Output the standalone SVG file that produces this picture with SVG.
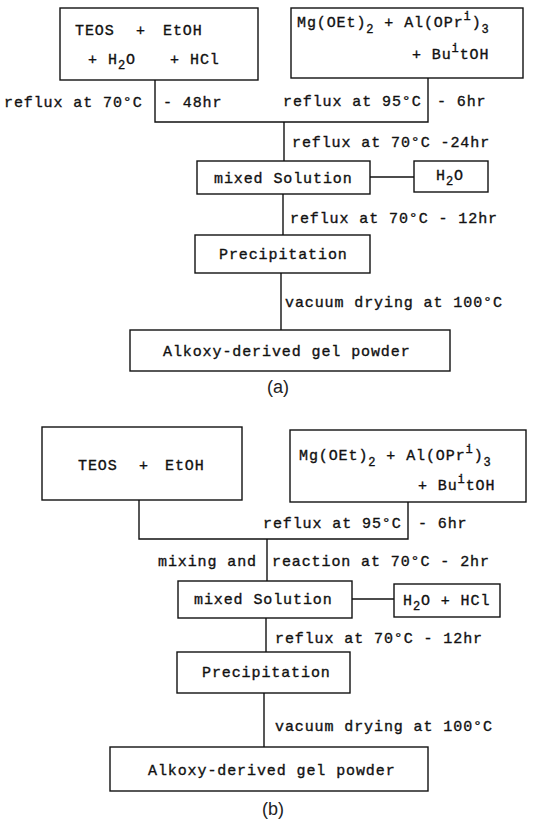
<svg xmlns="http://www.w3.org/2000/svg" width="551" height="820" viewBox="0 0 551 820">
<style>
text{font-family:"Liberation Mono","DejaVu Sans Mono",monospace;font-size:15px;letter-spacing:0.9px;fill:#111;stroke:#111;stroke-width:0.35px}
.sub,.sup{font-size:12px}
.cap{font-family:"Liberation Sans",Arial,sans-serif;font-size:18px;letter-spacing:0;stroke:none;fill:#222}
rect{fill:#fff;stroke:#111;stroke-width:1.4}
#connectors path{fill:none;stroke:#111;stroke-width:1.4}
</style>
<rect x="0" y="0" width="551" height="820" style="stroke:none"/>
<g id="connectors">
<path d="M155 80V122H428V78"/>
<path d="M284 122V161"/>
<path d="M370 177H414"/>
<path d="M283 194V235"/>
<path d="M281 273V330"/>
<path d="M139 500V539H408V502"/>
<path d="M267 539V581"/>
<path d="M352 599H394"/>
<path d="M266 618V652"/>
<path d="M264 693V747"/>
</g>
<g id="labels">
<text x="4" y="107">reflux at 70°C</text>
<text x="163" y="107">- 48hr</text>
<text x="283" y="106">reflux at 95°C</text>
<text x="437" y="106">- 6hr</text>
<text x="292" y="147">reflux at 70°C -24hr</text>
<text x="290" y="223">reflux at 70°C - 12hr</text>
<text x="285" y="307">vacuum drying at 100°C</text>
<text class="cap" x="278" y="393" text-anchor="middle">(a)</text>
<text x="263" y="528">reflux at 95°C</text>
<text x="418" y="528">- 6hr</text>
<text x="158" y="566">mixing and</text>
<text x="272" y="566">reaction at 70°C - 2hr</text>
<text x="275" y="643">reflux at 70°C - 12hr</text>
<text x="275" y="731">vacuum drying at 100°C</text>
<text class="cap" x="273" y="815" text-anchor="middle">(b)</text>
</g>
<g id="a-teos">
<rect x="60" y="8" width="198" height="72"/>
<text y="35"><tspan x="75">TEOS</tspan><tspan x="136">+</tspan><tspan x="163">EtOH</tspan></text>
<text y="64"><tspan x="88">+</tspan><tspan x="108">H</tspan><tspan class="sub" dy="5">2</tspan><tspan dy="-5">O</tspan><tspan x="170">+</tspan><tspan x="190">HCl</tspan></text>
</g>
<g id="a-mg">
<rect x="291" y="8" width="232" height="70"/>
<text x="297" y="27">Mg(OEt)<tspan class="sub" dy="6">2</tspan><tspan dy="-6"> + Al(OPr</tspan><tspan class="sup" dy="-7">i</tspan><tspan dy="7">)</tspan><tspan class="sub" dy="6">3</tspan></text>
<text x="412" y="59">+ Bu<tspan class="sup" dy="-7">i</tspan><tspan dy="7">tOH</tspan></text>
</g>
<g id="a-mixed">
<rect x="197" y="161" width="173" height="33"/>
<text x="214" y="183">mixed Solution</text>
</g>
<g id="a-h2o">
<rect x="414" y="161" width="74" height="31"/>
<text x="436" y="180">H<tspan class="sub" dy="5">2</tspan><tspan dy="-5">O</tspan></text>
</g>
<g id="a-precip">
<rect x="195" y="235" width="175" height="38"/>
<text x="219" y="259">Precipitation</text>
</g>
<g id="a-powder">
<rect x="130" y="330" width="320" height="41"/>
<text x="163" y="356">Alkoxy-derived gel powder</text>
</g>
<g id="b-teos">
<rect x="42" y="427" width="200" height="73"/>
<text y="470"><tspan x="78">TEOS</tspan><tspan x="139">+</tspan><tspan x="165">EtOH</tspan></text>
</g>
<g id="b-mg">
<rect x="290" y="430" width="236" height="72"/>
<text x="299" y="460">Mg(OEt)<tspan class="sub" dy="6">2</tspan><tspan dy="-6"> + Al(OPr</tspan><tspan class="sup" dy="-7">i</tspan><tspan dy="7">)</tspan><tspan class="sub" dy="6">3</tspan></text>
<text x="418" y="490">+ Bu<tspan class="sup" dy="-7">i</tspan><tspan dy="7">tOH</tspan></text>
</g>
<g id="b-mixed">
<rect x="178" y="581" width="174" height="37"/>
<text x="194" y="604">mixed Solution</text>
</g>
<g id="b-h2ohcl">
<rect x="394" y="584" width="106" height="33"/>
<text x="403" y="605">H<tspan class="sub" dy="5">2</tspan><tspan dy="-5">O + HCl</tspan></text>
</g>
<g id="b-precip">
<rect x="177" y="652" width="173" height="41"/>
<text x="202" y="677">Precipitation</text>
</g>
<g id="b-powder">
<rect x="110" y="747" width="318" height="44"/>
<text x="148" y="775">Alkoxy-derived gel powder</text>
</g>
</svg>
